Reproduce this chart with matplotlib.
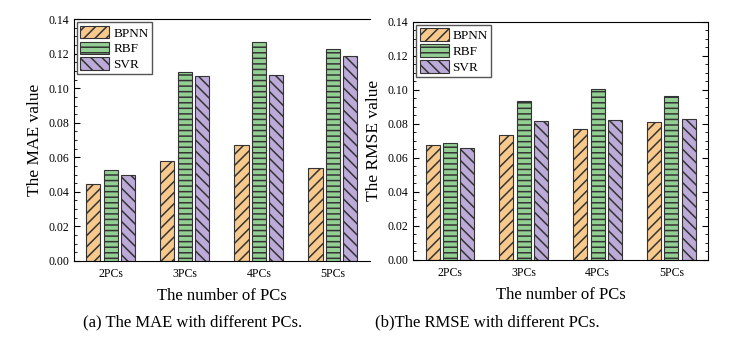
import numpy as np
import matplotlib
matplotlib.use('Agg')
import matplotlib.pyplot as plt
from matplotlib.ticker import MultipleLocator, FormatStrFormatter

plt.rcParams['font.family'] = 'Liberation Serif'
plt.rcParams['hatch.linewidth'] = 1.1

pcs = ['2PCs', '3PCs', '4PCs', '5PCs']
models = ['BPNN', 'RBF', 'SVR']
mae_bpnn = [0.0445, 0.0578, 0.0670, 0.0541]
mae_rbf = [0.0526, 0.1096, 0.1270, 0.1225]
mae_svr = [0.0500, 0.1072, 0.1077, 0.1185]
rmse_bpnn = [0.0673, 0.0732, 0.0771, 0.0813]
rmse_rbf = [0.0685, 0.0935, 0.1003, 0.0965]
rmse_svr = [0.0661, 0.0815, 0.0822, 0.0831]

colors = ['#f8c98c', '#93cf93', '#bcaad8']
hatches = ['///', '---', '\\\\\\']
edge = '#333333'

fig = plt.figure(figsize=(7.31, 3.42), dpi=100)
ax1 = fig.add_axes([0.101, 0.237, 0.405, 0.707])
ax2 = fig.add_axes([0.565, 0.240, 0.404, 0.696])

x = np.arange(len(pcs))
w = 0.19
offs = [-0.235, 0.0, 0.235]


def draw(ax, series, ylabel, right_spine):
    for i, vals in enumerate(series):
        ax.bar(x + offs[i], vals, w, color=colors[i], edgecolor=edge,
               hatch=hatches[i], linewidth=0.8, label=models[i])
    ax.set_xlim(-0.5, 3.5)
    ax.set_ylim(0, 0.14)
    ax.set_xticks(x)
    ax.set_xticklabels(pcs, fontsize=8.5)
    ax.yaxis.set_major_locator(MultipleLocator(0.02))
    ax.yaxis.set_minor_locator(MultipleLocator(0.005))
    ax.yaxis.set_major_formatter(FormatStrFormatter('%.2f'))
    ax.tick_params(axis='y', labelsize=8.5)
    ax.tick_params(axis='x', length=0, pad=5)
    ax.tick_params(axis='y', which='both', direction='in', right=right_spine)
    ax.tick_params(axis='y', which='major', length=4)
    ax.tick_params(axis='y', which='minor', length=2)
    ax.spines['right'].set_visible(right_spine)
    ax.set_ylabel(ylabel, fontsize=12.5)
    ax.set_xlabel('The number of PCs', fontsize=12, labelpad=6)
    ax.legend(loc='upper left', fontsize=9.5, handlelength=2.2, handleheight=1.1,
              borderpad=0.25, labelspacing=0.15, handletextpad=0.3,
              fancybox=False, edgecolor='#555555', framealpha=1,
              borderaxespad=0.25)


draw(ax1, [mae_bpnn, mae_rbf, mae_svr], 'The MAE value', False)
draw(ax2, [rmse_bpnn, rmse_rbf, rmse_svr], 'The RMSE value', True)

fig.text(0.264, 0.045, '(a) The MAE with different PCs.', ha='center', fontsize=12)
fig.text(0.666, 0.045, '(b)The RMSE with different PCs.', ha='center', fontsize=12)

fig.savefig('out.png', dpi=100)
